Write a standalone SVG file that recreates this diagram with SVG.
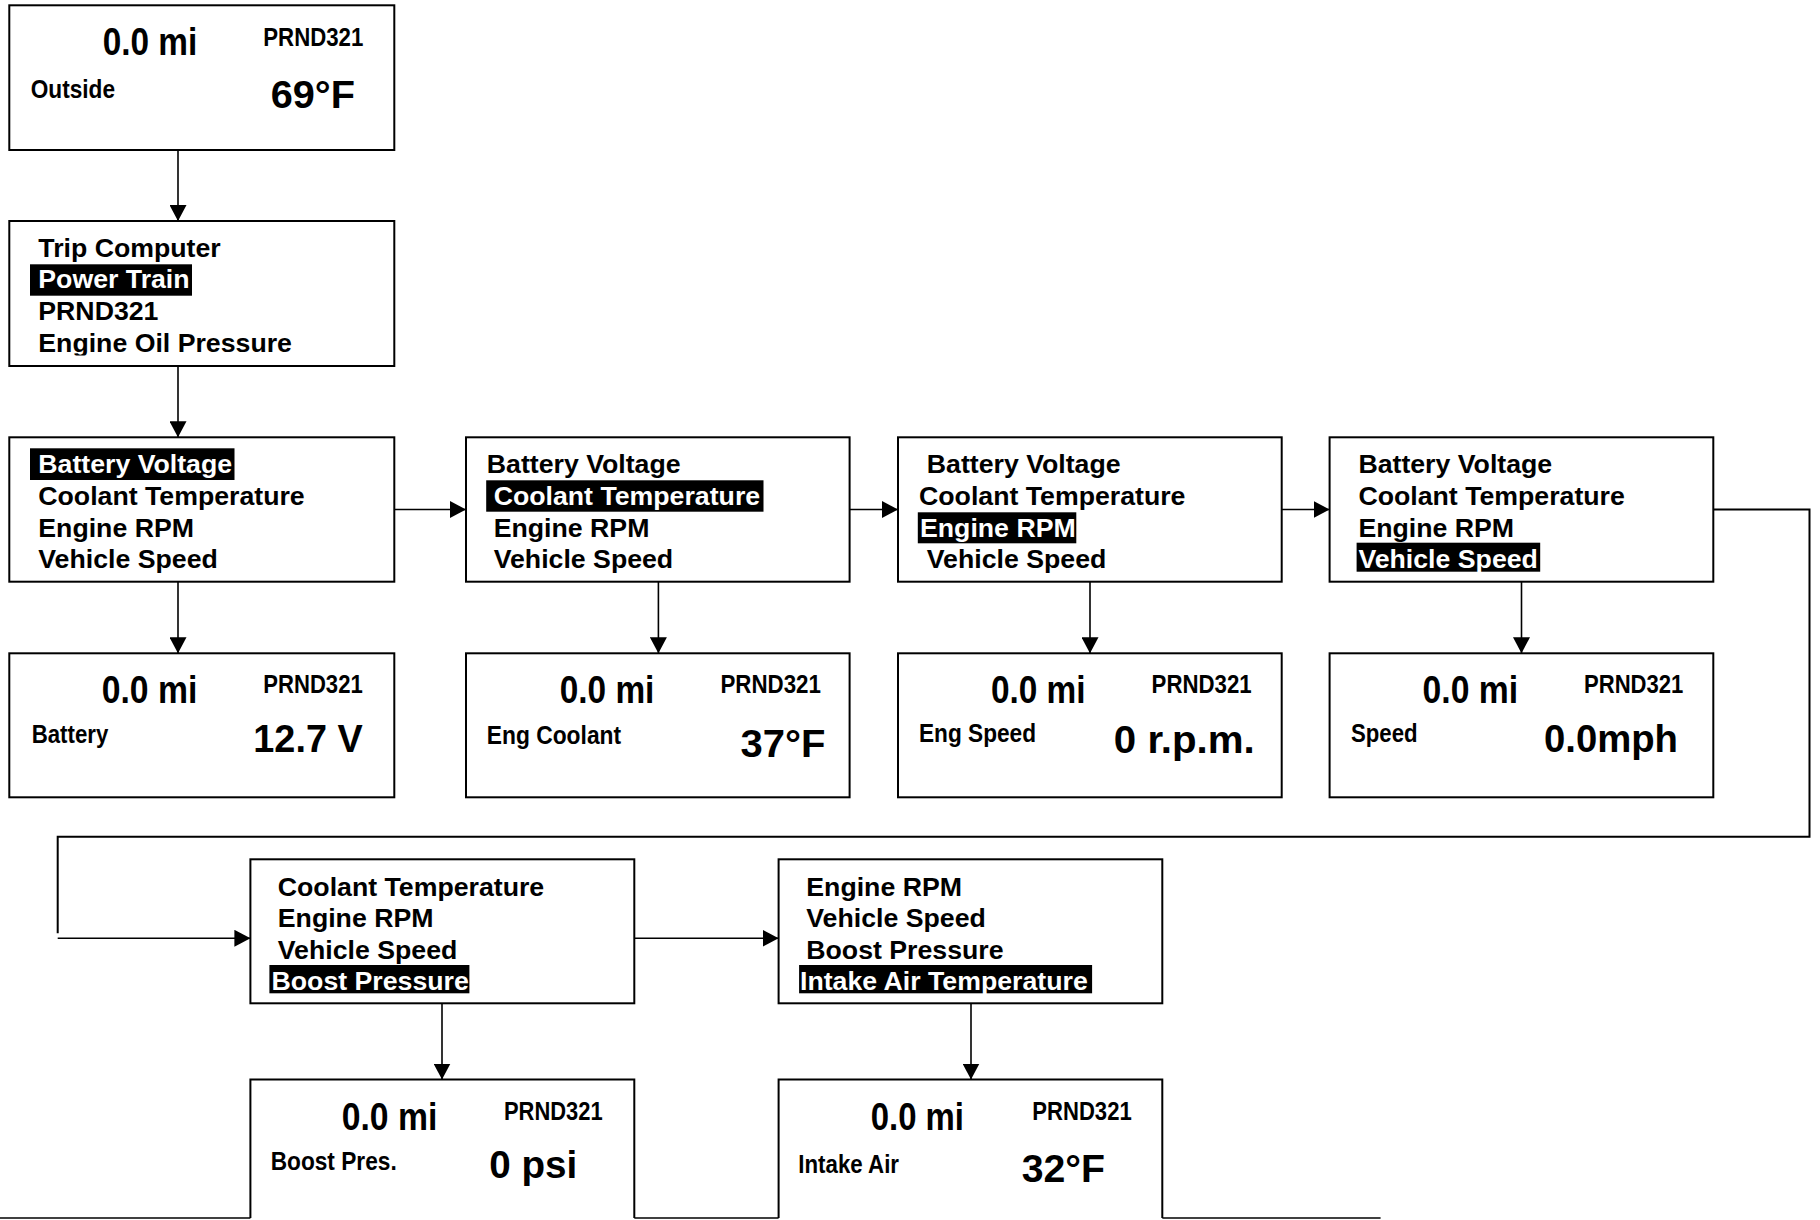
<svg xmlns="http://www.w3.org/2000/svg" width="1820" height="1220" viewBox="0 0 1820 1220">
<style>
.box{fill:#fff;stroke:#000;stroke-width:2}
.open{fill:#fff;stroke:#000;stroke-width:2}
.m{font-family:"Liberation Sans",Arial,sans-serif;font-weight:bold;font-size:26.7px;fill:#000}
.hl{fill:#000}
.w{fill:#fff}
.d{font-family:"Liberation Sans",Arial,sans-serif;font-weight:bold;fill:#000}
.big{font-size:38px}
.prnd{font-size:26px}
.lab{font-size:26px}
.val{font-size:39px}
.c{fill:none;stroke:#000;stroke-width:1.6}
.pb{fill:none;stroke:#000;stroke-width:1.3}
</style>
<defs>
<marker id="ah" markerUnits="userSpaceOnUse" markerWidth="16" markerHeight="17" refX="16" refY="8.5" orient="auto">
<path d="M0,0 L16,8.5 L0,17 Z" fill="#000"/>
</marker>
<clipPath id="clipOil"><rect x="0" y="221" width="400" height="134.5"/></clipPath>
</defs>
<rect width="1820" height="1220" fill="#fff"/>

<g id="connectors">
<line class="c" x1="178" y1="150" x2="178" y2="221" marker-end="url(#ah)"/>
<line class="c" x1="178" y1="366" x2="178" y2="437.3" marker-end="url(#ah)"/>
<line class="c" x1="394.3" y1="509.5" x2="466" y2="509.5" marker-end="url(#ah)"/>
<line class="c" x1="849.6" y1="509.5" x2="898" y2="509.5" marker-end="url(#ah)"/>
<line class="c" x1="1281.7" y1="509.5" x2="1329.6" y2="509.5" marker-end="url(#ah)"/>
<line class="c" x1="178" y1="581.7" x2="178" y2="653.3" marker-end="url(#ah)"/>
<line class="c" x1="658.4" y1="581.7" x2="658.4" y2="653.3" marker-end="url(#ah)"/>
<line class="c" x1="1090" y1="581.7" x2="1090" y2="653.3" marker-end="url(#ah)"/>
<line class="c" x1="1521.5" y1="581.7" x2="1521.5" y2="653.3" marker-end="url(#ah)"/>
<polyline class="c" points="1713.3,509.5 1809.5,509.5 1809.5,836.7 57.7,836.7 57.7,933.3" style="stroke-width:2"/>
<line class="c" x1="57.7" y1="938.3" x2="250.4" y2="938.3" marker-end="url(#ah)"/>
<line class="c" x1="634.3" y1="938.3" x2="778.6" y2="938.3" marker-end="url(#ah)"/>
<line class="c" x1="442" y1="1003.3" x2="442" y2="1079.5" marker-end="url(#ah)"/>
<line class="c" x1="971" y1="1003.3" x2="971" y2="1079.5" marker-end="url(#ah)"/>
<line class="pb" x1="0" y1="1218" x2="250.4" y2="1218"/>
<line class="pb" x1="634.3" y1="1218" x2="778.6" y2="1218"/>
<line class="pb" x1="1162.3" y1="1218" x2="1380.6" y2="1218"/>
</g>

<g id="home">
<rect class="box" x="9.3" y="5.3" width="385" height="144.7"/>
<text class="d big" x="102.7" y="55" textLength="94.6" lengthAdjust="spacingAndGlyphs">0.0 mi</text>
<text class="d prnd" x="263.3" y="46" textLength="100" lengthAdjust="spacingAndGlyphs">PRND321</text>
<text class="d lab" x="30.7" y="97.7" textLength="84.3" lengthAdjust="spacingAndGlyphs">Outside</text>
<text class="d val" x="270.7" y="108.3" textLength="84.3" lengthAdjust="spacingAndGlyphs">69°F</text>
</g>

<g id="menu-main">
<rect class="box" x="9.3" y="221" width="385" height="145"/>
<rect class="hl" x="30" y="264.3" width="162" height="31.4"/>
<text class="m" x="38.3" y="256.7">Trip Computer</text>
<text class="m w" x="38.3" y="288.3">Power Train</text>
<text class="m" x="38.3" y="320">PRND321</text>
<text class="m" x="38.3" y="351.7" clip-path="url(#clipOil)">Engine Oil Pressure</text>
</g>

<g id="menu-battery">
<rect class="box" x="9.3" y="437.3" width="385" height="144.4"/>
<rect class="hl" x="30" y="448.3" width="204.5" height="31.7"/>
<text class="m w" x="38.3" y="473.3">Battery Voltage</text>
<text class="m" x="38.3" y="505">Coolant Temperature</text>
<text class="m" x="38.3" y="536.7">Engine RPM</text>
<text class="m" x="38.3" y="568.3">Vehicle Speed</text>
</g>

<g id="menu-coolant">
<rect class="box" x="466" y="437.3" width="383.6" height="144.4"/>
<rect class="hl" x="486.2" y="480.3" width="277.3" height="31.4"/>
<text class="m" x="486.8" y="473.3">Battery Voltage</text>
<text class="m w" x="493.7" y="505">Coolant Temperature</text>
<text class="m" x="493.7" y="536.7">Engine RPM</text>
<text class="m" x="493.7" y="568.3">Vehicle Speed</text>
</g>

<g id="menu-rpm">
<rect class="box" x="898" y="437.3" width="383.7" height="144.4"/>
<rect class="hl" x="917.8" y="512.3" width="158.5" height="31"/>
<text class="m" x="926.8" y="473.3">Battery Voltage</text>
<text class="m" x="919" y="505">Coolant Temperature</text>
<text class="m w" x="920" y="536.7">Engine RPM</text>
<text class="m" x="926.8" y="568.3">Vehicle Speed</text>
</g>

<g id="menu-speed">
<rect class="box" x="1329.6" y="437.3" width="383.7" height="144.4"/>
<rect class="hl" x="1356.6" y="542.7" width="183.6" height="29"/>
<text class="m" x="1358.4" y="473.3">Battery Voltage</text>
<text class="m" x="1358.4" y="505">Coolant Temperature</text>
<text class="m" x="1358.4" y="536.7">Engine RPM</text>
<text class="m w" x="1358.4" y="568.3">Vehicle Speed</text>
</g>

<g id="disp-battery">
<rect class="box" x="9.3" y="653.3" width="385" height="144"/>
<text class="d big" x="101.7" y="703.3" textLength="95.6" lengthAdjust="spacingAndGlyphs">0.0 mi</text>
<text class="d prnd" x="263.3" y="693.3" textLength="99.4" lengthAdjust="spacingAndGlyphs">PRND321</text>
<text class="d lab" x="31.7" y="743.3" textLength="76.6" lengthAdjust="spacingAndGlyphs">Battery</text>
<text class="d val" x="253.3" y="751.7" textLength="109.4" lengthAdjust="spacingAndGlyphs">12.7 V</text>
</g>

<g id="disp-coolant">
<rect class="box" x="466" y="653.3" width="383.6" height="144"/>
<text class="d big" x="559.7" y="703.3" textLength="94.7" lengthAdjust="spacingAndGlyphs">0.0 mi</text>
<text class="d prnd" x="720.4" y="693.3" textLength="100.5" lengthAdjust="spacingAndGlyphs">PRND321</text>
<text class="d lab" x="486.8" y="744" textLength="134.3" lengthAdjust="spacingAndGlyphs">Eng Coolant</text>
<text class="d val" x="740.5" y="756.7" textLength="85" lengthAdjust="spacingAndGlyphs">37°F</text>
</g>

<g id="disp-rpm">
<rect class="box" x="898" y="653.3" width="383.7" height="144"/>
<text class="d big" x="990.9" y="703.3" textLength="94.7" lengthAdjust="spacingAndGlyphs">0.0 mi</text>
<text class="d prnd" x="1151.6" y="693.3" textLength="100" lengthAdjust="spacingAndGlyphs">PRND321</text>
<text class="d lab" x="919" y="741.7" textLength="117" lengthAdjust="spacingAndGlyphs">Eng Speed</text>
<text class="d val" x="1113.8" y="753.3" textLength="141" lengthAdjust="spacingAndGlyphs">0 r.p.m.</text>
</g>

<g id="disp-speed">
<rect class="box" x="1329.6" y="653.3" width="383.7" height="144"/>
<text class="d big" x="1422.6" y="703.3" textLength="95.5" lengthAdjust="spacingAndGlyphs">0.0 mi</text>
<text class="d prnd" x="1584" y="693.3" textLength="99.3" lengthAdjust="spacingAndGlyphs">PRND321</text>
<text class="d lab" x="1351" y="741.7" textLength="66.6" lengthAdjust="spacingAndGlyphs">Speed</text>
<text class="d val" x="1544" y="751.7" textLength="134" lengthAdjust="spacingAndGlyphs">0.0mph</text>
</g>

<g id="menu-boost">
<rect class="box" x="250.4" y="859.3" width="383.9" height="144"/>
<rect class="hl" x="269.4" y="965" width="200" height="28.3"/>
<text class="m" x="277.8" y="896">Coolant Temperature</text>
<text class="m" x="277.8" y="927">Engine RPM</text>
<text class="m" x="277.8" y="958.5">Vehicle Speed</text>
<text class="m w" x="271.5" y="990">Boost Pressure</text>
</g>

<g id="menu-intake">
<rect class="box" x="778.6" y="859.3" width="383.7" height="144"/>
<rect class="hl" x="799.1" y="965" width="293" height="28.3"/>
<text class="m" x="806.3" y="896">Engine RPM</text>
<text class="m" x="806.3" y="927">Vehicle Speed</text>
<text class="m" x="806.3" y="958.5">Boost Pressure</text>
<text class="m w" x="800" y="990">Intake Air Temperature</text>
</g>

<g id="disp-boost">
<path class="open" d="M250.4,1218 V1079.5 H634.3 V1218"/>
<text class="d big" x="341.7" y="1130" textLength="95.6" lengthAdjust="spacingAndGlyphs">0.0 mi</text>
<text class="d prnd" x="504" y="1120" textLength="98.7" lengthAdjust="spacingAndGlyphs">PRND321</text>
<text class="d lab" x="270.7" y="1170" textLength="126" lengthAdjust="spacingAndGlyphs">Boost Pres.</text>
<text class="d val" x="489.3" y="1178.3" textLength="88" lengthAdjust="spacingAndGlyphs">0 psi</text>
</g>

<g id="disp-intake">
<path class="open" d="M778.6,1218 V1079.5 H1162.3 V1218"/>
<text class="d big" x="870.7" y="1130" textLength="93.3" lengthAdjust="spacingAndGlyphs">0.0 mi</text>
<text class="d prnd" x="1032.3" y="1120" textLength="99.4" lengthAdjust="spacingAndGlyphs">PRND321</text>
<text class="d lab" x="798.3" y="1172.7" textLength="100.7" lengthAdjust="spacingAndGlyphs">Intake Air</text>
<text class="d val" x="1021.7" y="1181.7" textLength="83.3" lengthAdjust="spacingAndGlyphs">32°F</text>
</g>
</svg>
